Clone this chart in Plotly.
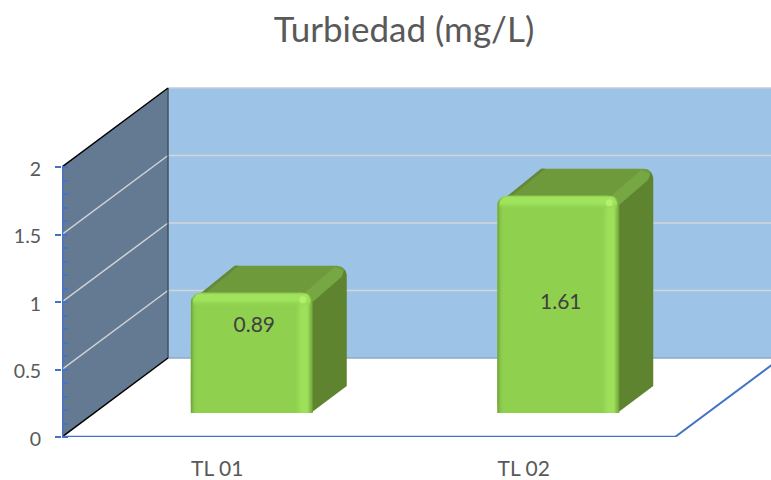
import numpy as np
import plotly.graph_objects as go

categories = ["TL 01", "TL 02"]
values = [0.89, 1.61]
y_ticks = [0, 0.5, 1, 1.5, 2]
title_text = "Turbiedad (mg/L)"

# --- layout geometry (pixels -> axis units) ---
W, H = 771, 480
ML, MB = 62, 43
PX_X = 306.5           # pixels per category
PX_Y = 135.0           # pixels per value unit
ux, uy = 1 / PX_X, 1 / PX_Y
x_range = [-0.5, -0.5 + (W - ML) * ux]
y_range = [0, (H - MB) * uy]
DEPTH_X, DEPTH_Y = 106 * ux, 79 * uy   # wall depth
X_END = 1.5

BAR_W = 122 * ux
BAR_SHIFT = 36.5 * ux
BAR_LIFT = 24 * uy
BAR_DX, BAR_DY = 34 * ux, 27 * uy
R = 10
LABEL_Y = [0.815, 0.985]
LABEL_DX = 39 * ux


def poly(points):
    return "M" + " L".join(f"{x:.5f},{y:.5f}" for x, y in points) + " Z"


def arc(cx, cy, rx, ry, a0, a1, n=8):
    t = np.radians(np.linspace(a0, a1, n))
    return [(cx + rx * np.cos(a), cy + ry * np.sin(a)) for a in t]


def rounded_top(x0, x1, y0, y1, rpx):
    rx, ry = rpx * ux, rpx * uy
    pts = [(x0, y0)]
    pts += arc(x0 + rx, y1 - ry, rx, ry, 180, 90)
    pts += arc(x1 - rx, y1 - ry, rx, ry, 90, 0)
    pts += [(x1, y0)]
    return pts


def fill_trace(points, color=None, gradient=None):
    xs, ys = zip(*(points + points[:1]))
    kw = dict(x=list(xs), y=list(ys), mode="lines", fill="toself",
              line=dict(width=0), hoverinfo="skip", showlegend=False)
    if gradient:
        kw["fillgradient"] = gradient
        kw["fillcolor"] = "rgba(0,0,0,0)"
    else:
        kw["fillcolor"] = color
    return go.Scatter(**kw)


x0, x1 = -0.5, X_END
shapes = []
# back wall
shapes.append(dict(type="path", layer="below", xref="x", yref="y", line_width=0,
                   fillcolor="#9dc3e6",
                   path=poly([(x0 + DEPTH_X, DEPTH_Y), (x1 + DEPTH_X, DEPTH_Y),
                              (x1 + DEPTH_X, 2 + DEPTH_Y), (x0 + DEPTH_X, 2 + DEPTH_Y)])))
# side wall
shapes.append(dict(type="path", layer="below", xref="x", yref="y", line_width=0,
                   fillcolor="#647a92",
                   path=poly([(x0, 0), (x0 + DEPTH_X, DEPTH_Y),
                              (x0 + DEPTH_X, 2 + DEPTH_Y), (x0, 2)])))


def seg(xa, ya, xb, yb, color, width):
    return dict(type="line", layer="below", xref="x", yref="y", x0=xa, y0=ya, x1=xb, y1=yb,
                line=dict(color=color, width=width))


for v in y_ticks[1:]:
    if v < 2:
        shapes.append(seg(x0, v, x0 + DEPTH_X, v + DEPTH_Y, "#cfd3d6", 1.5))
        shapes.append(seg(x0 + DEPTH_X, v + DEPTH_Y, x1 + DEPTH_X, v + DEPTH_Y, "#d3d6d8", 1.5))
shapes.append(seg(x0 + DEPTH_X, 2 + DEPTH_Y, x1 + DEPTH_X, 2 + DEPTH_Y, "#c4cdd6", 1.5))
shapes.append(seg(x0 + DEPTH_X, DEPTH_Y, x1 + DEPTH_X, DEPTH_Y, "#8fa8c6", 1.5))
shapes.append(seg(x0 + DEPTH_X, DEPTH_Y, x0 + DEPTH_X, 2 + DEPTH_Y, "#41525f", 1.5))
shapes.append(seg(x0, 0, x0 + DEPTH_X, DEPTH_Y, "#000000", 1.5))
shapes.append(seg(x0, 2, x0 + DEPTH_X, 2 + DEPTH_Y, "#000000", 1.5))
shapes.append(seg(x1, 0, x1 + DEPTH_X, DEPTH_Y, "#4472c4", 2))

fig = go.Figure()

xc = [i + BAR_SHIFT for i in range(len(categories))]
fig.add_trace(go.Bar(x=xc, y=values, base=[BAR_LIFT] * len(values), width=BAR_W,
                     marker=dict(color="#8fd14f", line_width=0), showlegend=False,
                     hoverinfo="skip"))

for c, v in zip(xc, values):
    L, Rt = c - BAR_W / 2, c + BAR_W / 2
    top, bot = BAR_LIFT + v, BAR_LIFT
    dx, dy = BAR_DX, BAR_DY
    rx, ry = R * ux, R * uy
    # side face
    side = [(Rt - 6 * ux, top - 6 * uy), (Rt + dx - 6 * ux, top + dy - 1 * uy)]
    side += arc(Rt + dx - rx, top + dy - ry, rx, ry, 70, 0)
    side += [(Rt + dx, bot + dy), (Rt - 2 * ux, bot), (Rt - 8 * ux, bot)]
    fig.add_trace(fill_trace(side, "#5e8430"))
    # top face
    topf = [(L + rx, top - 1 * uy), (L + rx + dx, top + dy)]
    topf += arc(Rt + dx - rx, top + dy - ry, rx, ry, 90, 40)
    topf += [(Rt - 4 * ux, top - 4 * uy)]
    fig.add_trace(fill_trace(topf, "#6e9a3b"))
    # dark left diagonal rim of top face
    rim = [(L + rx - 2 * ux, top - 2 * uy), (L + rx + dx, top + dy),
           (L + rx + dx + 4 * ux, top + dy), (L + rx + 5 * ux, top)]
    fig.add_trace(fill_trace(rim, "#62893a"))
    # lighter ridge from front corner to back corner
    ridge = [(Rt - 8 * ux, top), (Rt + dx - 12 * ux, top + dy - 1 * uy),
             (Rt + dx - 3 * ux, top + dy - 5 * uy), (Rt + dx - 5 * ux, top + dy - 11 * uy),
             (Rt - 1 * ux, top - 10 * uy)]
    fig.add_trace(fill_trace(ridge, "#76a742"))
    # front face: horizontal bevel
    fig.add_trace(fill_trace(
        rounded_top(L, Rt, bot, top, R),
        gradient=dict(type="horizontal",
                      colorscale=[[0, "#6fa035"], [0.025, "#86c54a"], [0.05, "#8fd14f"],
                                  [0.86, "#8fd14f"], [0.91, "#9de05a"], [0.955, "#9de05a"],
                                  [0.985, "#7fb845"], [1, "#6e9f3a"]])))
    # front face: top bevel
    fig.add_trace(fill_trace(
        rounded_top(L + 2 * ux, Rt - 2 * ux, top - 14 * uy, top, R),
        gradient=dict(type="vertical",
                      colorscale=[[0, "rgba(143,209,79,0)"], [0.45, "#9fe25b"],
                                  [0.85, "#a1e45d"], [1, "#8ccb4d"]])))
    # specular spot
    fig.add_trace(go.Scatter(x=[Rt - 10 * ux], y=[top - 7 * uy], mode="markers",
                             marker=dict(size=7, color="#b4f06c", line_width=0),
                             hoverinfo="skip", showlegend=False))

# floor front edge and value axis line (drawn unclipped)
fig.add_trace(go.Scatter(x=[x0 - 6 * ux, x1], y=[0, 0], mode="lines", cliponaxis=False,
                         line=dict(color="#4472c4", width=2.5), hoverinfo="skip", showlegend=False))
fig.add_trace(go.Scatter(x=[x0, x0], y=[0, 2], mode="lines", cliponaxis=False,
                         line=dict(color="#4472c4", width=2.5), hoverinfo="skip", showlegend=False))

# data labels
fig.add_trace(go.Scatter(x=[i + LABEL_DX for i in range(len(values))], y=LABEL_Y, mode="text",
                         text=[f"{v:.2f}" for v in values],
                         textfont=dict(family="Lato, sans-serif", size=21, color="#404040"),
                         hoverinfo="skip", showlegend=False))

fig.update_layout(
    width=W, height=H, margin=dict(l=ML, r=0, t=0, b=MB, pad=0, autoexpand=False),
    paper_bgcolor="white", plot_bgcolor="white", showlegend=False, barmode="overlay",
    barcornerradius=R, shapes=shapes,
    title=dict(text=title_text, x=404 / W, xanchor="center", y=1 - 30 / H, yanchor="middle",
               font=dict(family="Lato, sans-serif", size=35, color="#595959")),
    xaxis=dict(range=x_range, showgrid=False, zeroline=False, showline=False, automargin=False,
               tickmode="array", tickvals=list(range(len(categories))), ticktext=categories,
               ticks="", ticklabelstandoff=17, ticklabelshift=2,
               tickfont=dict(family="Lato, sans-serif", size=21, color="#595959")),
    yaxis=dict(range=y_range, showgrid=False, zeroline=False, showline=False, automargin=False,
               tickmode="array", tickvals=y_ticks, ticktext=[str(t) for t in y_ticks],
               ticks="outside", ticklen=6, tickwidth=2, tickcolor="#4472c4", ticklabelstandoff=10,
               ticklabelshift=2,
               tickfont=dict(family="Lato, sans-serif", size=19.5, color="#595959"),
               minor=dict(tickmode="array", tickvals=[round(i * 0.1, 1) for i in range(21)],
                          ticks="inside", ticklen=6, tickwidth=1.5, tickcolor="#4472c4",
                          showgrid=False)),
)
fig.write_html("out.html", config={"displayModeBar": False},
               post_script="document.body.style.margin='0';")
